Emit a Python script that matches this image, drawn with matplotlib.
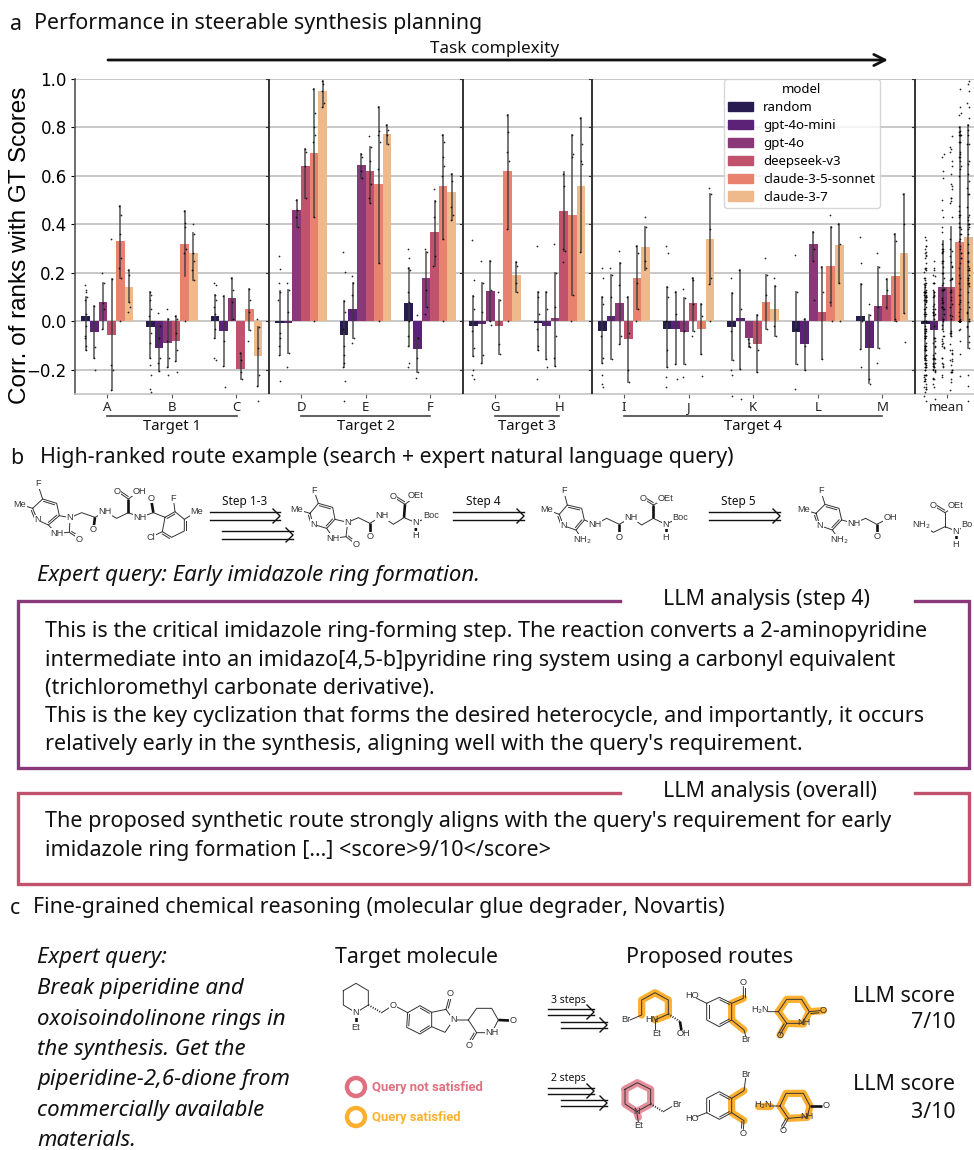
import matplotlib
matplotlib.use('Agg')
import matplotlib.pyplot as plt
import numpy as np
from matplotlib.patches import Patch, Circle

plt.rcParams['font.family'] = ['Noto Sans', 'DejaVu Sans']

categories = ['A', 'B', 'C', 'D', 'E', 'F', 'G', 'H', 'I', 'J', 'K', 'L', 'M', 'mean']
models = ['random', 'gpt-4o-mini', 'gpt-4o', 'deepseek-v3', 'claude-3-5-sonnet', 'claude-3-7']
colors = ['#281b4f', '#5b2277', '#8a3878', '#c1526e', '#e8816e', '#efba8b']

# bar heights, one entry per category
vals_random = [0.02, -0.025, 0.02, -0.005, -0.055, 0.075, -0.02, -0.005, -0.038, -0.03, -0.022, -0.043, 0.02, -0.01]
vals_mini = [-0.045, -0.11, -0.04, -0.005, 0.05, -0.115, -0.01, -0.018, 0.02, -0.033, 0.012, -0.095, -0.11, -0.037]
vals_4o = [0.08, -0.09, 0.095, 0.46, 0.645, 0.18, 0.125, 0.012, 0.075, -0.045, -0.07, 0.32, 0.062, 0.143]
vals_ds = [-0.055, -0.08, -0.195, 0.64, 0.62, 0.37, -0.02, 0.455, -0.075, 0.075, -0.095, 0.04, 0.11, 0.14]
vals_sonnet = [0.33, 0.32, 0.05, 0.695, 0.565, 0.56, 0.62, 0.44, 0.178, -0.033, 0.08, 0.228, 0.187, 0.328]
vals_37 = [0.14, 0.28, -0.145, 0.95, 0.775, 0.535, 0.19, 0.56, 0.305, 0.34, 0.05, 0.315, 0.283, 0.35]
all_vals = [vals_random, vals_mini, vals_4o, vals_ds, vals_sonnet, vals_37]

# error bars (low, high)
err_random = [(-0.12, 0.10), (-0.15, 0.12), (-0.07, 0.11), (-0.14, 0.125), (-0.19, 0.085), (-0.10, 0.22), (-0.145, 0.105),
              (-0.12, 0.12), (-0.17, 0.10), (-0.19, 0.14), (-0.16, 0.115), (-0.175, 0.12), (-0.115, 0.155), (-0.16, 0.14)]
err_mini = [(-0.15, 0.065), (-0.205, -0.01), (-0.185, 0.105), (-0.13, 0.13), (-0.07, 0.16), (-0.21, -0.07), (-0.17, 0.16),
            (-0.155, 0.12), (-0.155, 0.19), (-0.175, 0.12), (-0.195, 0.21), (-0.20, 0.01), (-0.255, 0.025), (-0.19, 0.12)]
err_4o = [(-0.03, 0.16), (-0.19, 0.01), (0.005, 0.18), (0.39, 0.50), (0.59, 0.69), (0.06, 0.285), (0.0, 0.25),
          (-0.185, 0.20), (-0.095, 0.24), (-0.175, 0.095), (-0.105, -0.075), (0.25, 0.37), (-0.11, 0.225), (-0.03, 0.33)]
err_ds = [(-0.285, 0.175), (-0.165, 0.02), (-0.24, -0.13), (0.51, 0.71), (0.49, 0.72), (0.23, 0.495), (-0.135, 0.09),
          (0.29, 0.615), (-0.25, 0.10), (-0.04, 0.18), (-0.21, 0.025), (-0.155, 0.225), (0.05, 0.175), (-0.06, 0.39)]
err_sonnet = [(0.18, 0.475), (0.185, 0.455), (-0.035, 0.135), (0.43, 0.96), (0.24, 0.885), (0.34, 0.77), (0.38, 0.85),
              (0.11, 0.77), (0.05, 0.31), (-0.135, 0.07), (-0.03, 0.19), (0.065, 0.39), (0.0, 0.36), (0.0, 0.80)]
err_37 = [(0.08, 0.21), (0.17, 0.365), (-0.265, -0.025), (0.885, 0.99), (0.73, 0.81), (0.42, 0.61), (0.12, 0.245),
          (0.285, 0.84), (0.21, 0.39), (0.155, 0.525), (-0.06, 0.145), (0.16, 0.40), (0.035, 0.525), (-0.11, 0.81)]
all_err = [err_random, err_mini, err_4o, err_ds, err_sonnet, err_37]

# single runs, per category then per model
pts_A = [[0.15, 0.13, 0.12, 0.10, 0.09, 0.03, -0.02, -0.06, -0.07, -0.10, -0.12], [0.065, -0.105, -0.15, -0.2],
         [0.2, 0.16, 0.075, 0.05, -0.03], [0.34, 0.175, -0.18, -0.2, -0.285], [0.475, 0.44, 0.36, 0.26, 0.22, 0.18, 0.0], [0.21, 0.19, 0.08, 0.06, 0.04]]
pts_B = [[0.12, 0.11, 0.09, 0.05, 0.02, -0.05, -0.09, -0.15, -0.18, -0.22, -0.28, -0.29], [0.035, -0.02, -0.07, -0.15, -0.17, -0.205],
         [0.05, 0.01, -0.08, -0.15, -0.19, -0.22], [0.02, 0.01, -0.05, -0.12, -0.165, -0.21], [0.455, 0.405, 0.39, 0.3, 0.28, 0.0], [0.40, 0.36, 0.28, 0.25, 0.21, 0.17]]
pts_C = [[0.16, 0.15, 0.11, 0.09, 0.06, 0.03, -0.03, -0.07, -0.15, -0.16], [0.105, -0.08, -0.185, -0.27],
         [0.18, 0.13, 0.08, 0.01], [-0.13, -0.16, -0.21, -0.24], [0.135, 0.09, 0.04, -0.035, -0.08], [0.01, -0.025, -0.11, -0.22, -0.265, -0.33]]
pts_D = [[0.27, 0.215, 0.16, 0.12, 0.09, -0.05, -0.07, -0.10, -0.14, -0.245], [0.16, 0.13, 0.04, -0.13, -0.19],
         [0.50, 0.46, 0.43, 0.39], [0.71, 0.70, 0.64, 0.51], [0.96, 0.86, 0.80, 0.77, 0.74, 0.43, 0.0], [0.99, 0.98, 0.95, 0.90, 0.885]]
pts_E = [[0.285, 0.205, 0.085, 0.04, -0.03, -0.10, -0.14, -0.17, -0.19, -0.245, -0.33], [0.185, 0.16, 0.11, -0.07, -0.09],
         [0.69, 0.68, 0.62, 0.59], [0.765, 0.72, 0.66, 0.565, 0.51, 0.49], [0.885, 0.785, 0.77, 0.74, 0.63, 0.24, 0.0], [0.81, 0.79, 0.77, 0.73]]
pts_F = [[0.30, 0.26, 0.22, 0.21, 0.12, 0.08, 0.0, -0.06, -0.10, -0.17, -0.19], [0.025, -0.07, -0.15, -0.21, -0.235],
         [0.30, 0.285, 0.13, 0.06, 0.03], [0.545, 0.495, 0.43, 0.27, 0.23], [0.77, 0.74, 0.68, 0.64, 0.6, 0.34, 0.0], [0.61, 0.58, 0.47, 0.44, 0.42]]
pts_G = [[0.335, 0.17, 0.105, 0.05, -0.04, -0.11, -0.145, -0.2, -0.22, -0.24], [0.25, 0.16, 0.04, -0.14, -0.17],
         [0.25, 0.13, 0.0, -0.015], [0.12, 0.09, -0.095, -0.135], [0.85, 0.78, 0.70, 0.66, 0.38, 0.0], [0.245, 0.23, 0.16, 0.12]]
pts_H = [[0.31, 0.12, 0.10, 0.03, -0.03, -0.10, -0.12, -0.24], [0.12, 0.05, -0.155, -0.19],
         [0.32, 0.2, 0.06, -0.06, -0.15, -0.185], [0.61, 0.56, 0.30, 0.29, 0.245], [0.77, 0.69, 0.68, 0.11, 0.0], [0.84, 0.73, 0.66, 0.65, 0.285]]
pts_I = [[0.22, 0.18, 0.10, 0.07, -0.06, -0.15, -0.17, -0.22, -0.26, -0.27], [0.22, 0.19, 0.1, -0.155],
         [0.29, 0.24, 0.15, -0.06, -0.095], [0.10, -0.05, -0.20, -0.25], [0.31, 0.28, 0.16, 0.05, 0.0], [0.43, 0.39, 0.25, 0.22]]
pts_J = [[0.31, 0.28, 0.14, 0.1, 0.0, -0.12, -0.19, -0.23, -0.27], [0.12, 0.03, -0.175, -0.24],
         [0.135, 0.095, -0.04, -0.175, -0.23], [0.18, 0.17, 0.07, -0.04, -0.06], [0.07, 0.02, -0.135, -0.225], [0.55, 0.525, 0.38, 0.18, 0.155, 0.0]]
pts_K = [[0.18, 0.115, -0.04, -0.16, -0.2, -0.22, -0.31], [0.21, 0.05, -0.195, -0.32],
         [-0.075, -0.09, -0.1, -0.105], [0.025, -0.12, -0.21], [0.26, 0.19, 0.11, -0.03], [0.18, 0.145, -0.02, -0.06]]
pts_L = [[0.275, 0.12, -0.03, -0.175, -0.28], [0.01, -0.1, -0.2],
         [0.37, 0.3, 0.25, 0.09], [0.225, 0.12, -0.155], [0.44, 0.39, 0.08, 0.0], [0.40, 0.32, 0.16, 0.0]]
pts_M = [[0.35, 0.24, 0.155, 0.0, -0.115, -0.19], [0.07, 0.025, -0.24, -0.26],
         [0.28, 0.225, 0.06, -0.11, -0.17], [0.175, 0.13, 0.06], [0.36, 0.33, 0.01, 0.0], [0.525, 0.40, 0.035, -0.085]]
all_pts = [pts_A, pts_B, pts_C, pts_D, pts_E, pts_F, pts_G, pts_H, pts_I, pts_J, pts_K, pts_L, pts_M]

group_labels = ['Target 1', 'Target 2', 'Target 3', 'Target 4']
group_spans = [(0, 2), (3, 5), (6, 7), (8, 12)]
dividers = [2.5, 5.5, 7.5, 12.5]
yticks = [-0.2, 0.0, 0.2, 0.4, 0.6, 0.8, 1.0]

W, H = 974, 1150
fig = plt.figure(figsize=(W / 100, H / 100), dpi=100)

ax = fig.add_axes([75 / W, 1 - 394 / H, (W - 75) / W, 315 / H])
x = np.arange(len(categories))
width = 0.8 / 6
jitter = [-0.012, 0.01, -0.004, 0.015, -0.016, 0.005, 0.0, -0.008]

ax.set_axisbelow(True)
ax.yaxis.grid(True, color='#c4c4c4', lw=1.3)
for i, m in enumerate(models):
    offs = x - 0.4 + width * (i + 0.5)
    ax.bar(offs, all_vals[i], width=width, color=colors[i], zorder=2)
    for j in range(len(categories)):
        lo, hi = all_err[i][j]
        ax.plot([offs[j], offs[j]], [lo, hi], color='#3a3a3a', lw=1.3, alpha=0.75, zorder=3)
        if j < 13:
            ys = all_pts[j][i]
        else:
            ys = [v for c in all_pts for v in c[i]]  # mean column pools every run
        xs = [offs[j] + jitter[k % len(jitter)] for k in range(len(ys))]
        ax.scatter(xs, ys, s=1.6, color='black', alpha=0.85, lw=0, zorder=4, clip_on=False)

ax.set_xlim(-0.5, 13.42)
ax.set_ylim(-0.3, 1.0)
ax.set_yticks(yticks)
ax.set_xticks(x)
ax.set_xticklabels(categories, fontsize=9.5, color='#222')
ax.tick_params(axis='x', length=3, width=0.8, pad=2, color='#555')
ax.tick_params(axis='y', length=3, width=0.8, pad=3, labelsize=12)
for t in ax.get_yticklabels():
    t.set_family('DejaVu Sans')
ax.set_ylabel('Corr. of ranks with GT Scores', family='Liberation Sans', fontsize=17.5)
ax.yaxis.set_label_coords(31 / W, 1 - 245 / H, transform=fig.transFigure)
for s in ['top', 'right']:
    ax.spines[s].set_visible(False)
ax.spines['left'].set_color('#555')
ax.spines['left'].set_linewidth(1.2)
ax.spines['bottom'].set_color('#c4c4c4')
ax.spines['bottom'].set_linewidth(1.2)

for d in dividers:
    ax.axvline(d, color='#333', lw=1.4, zorder=5)
    for v in yticks:
        ax.plot([d - 0.04, d], [v, v], color='#333', lw=0.8, zorder=5)

handles = [Patch(color=c, label=m) for c, m in zip(colors, models)]
leg = ax.legend(handles=handles, title='model', loc='upper left', bbox_to_anchor=(724 / W, 1 - 79 / H),
                bbox_transform=fig.transFigure, fontsize=9.5, title_fontsize=9.5, labelspacing=0.37,
                handlelength=1.85, handletextpad=0.8, borderpad=0.33, borderaxespad=0, framealpha=0.8)
leg.set_zorder(10)

# everything else is placed in image pixels
ov = fig.add_axes([0, 0, 1, 1], zorder=20)
ov.set_xlim(0, W)
ov.set_ylim(H, 0)
ov.axis('off')

BODY = 15.4
ITALIC = 16


def label(px, py, s, size=BODY, ha='left', **kw):
    ov.text(px, py, s, fontsize=size, ha=ha, va='center', color=kw.pop('color', '#111'), **kw)


for (a, b), name in zip(group_spans, group_labels):
    xa, xb = 107.3 + 64.6 * a, 107.3 + 64.6 * b
    ov.plot([xa, xb], [416, 416], color='#444', lw=1.2)
    label((xa + xb) / 2, 426.5, name, size=10.7, ha='center')

label(10, 24, 'a')
label(34, 24, 'Performance in steerable synthesis planning')
label(495, 49, 'Task complexity', 12.3, ha='center')
ov.annotate('', xy=(888, 60), xytext=(108, 60), arrowprops=dict(arrowstyle='->', lw=2, color='#111', mutation_scale=20, shrinkA=0, shrinkB=0))

label(10, 458, 'b')
label(40, 458, 'High-ranked route example (search + expert natural language query)')
label(37, 575, 'Expert query: Early imidazole ring formation.', ITALIC, style='italic')

query_lines = ['This is the critical imidazole ring-forming step. The reaction converts a 2-aminopyridine',
               'intermediate into an imidazo[4,5-b]pyridine ring system using a carbonyl equivalent',
               '(trichloromethyl carbonate derivative).',
               'This is the key cyclization that forms the desired heterocycle, and importantly, it occurs',
               "relatively early in the synthesis, aligning well with the query's requirement."]
overall_lines = ["The proposed synthetic route strongly aligns with the query's requirement for early",
                 'imidazole ring formation [...] <score>9/10</score>']
for i, s in enumerate(query_lines):
    label(45, 632 + 28.2 * i, s, 15.55)
for i, s in enumerate(overall_lines):
    label(45, 822 + 28.2 * i, s, 15.55)

ov.plot([620, 18, 18, 969, 969, 915], [601, 601, 768, 768, 601, 601], color='#8a3878', lw=2.4, solid_joinstyle='miter')
ov.plot([620, 18, 18, 969, 969, 915], [793, 793, 884, 884, 793, 793], color='#c1526e', lw=2.4, solid_joinstyle='miter')
label(663, 599, 'LLM analysis (step 4)')
label(663, 791, 'LLM analysis (overall)')

label(10, 908, 'c')
label(33, 908, 'Fine-grained chemical reasoning (molecular glue degrader, Novartis)')
side_text = ['Expert query:', 'Break piperidine and', 'oxoisoindolinone rings in', 'the synthesis. Get the',
             'piperidine-2,6-dione from', 'commercially available', 'materials.']
for i, s in enumerate(side_text):
    label(37, 958 + 30.5 * i, s, ITALIC, style='italic')
label(335, 957, 'Target molecule')
label(626, 957, 'Proposed routes')
label(955, 996, 'LLM score', ha='right')
label(955, 1023, '7/10', ha='right')
label(955, 1084, 'LLM score', ha='right')
label(955, 1112, '3/10', ha='right')


def step_arrow(x0, x1, yc, gap):
    for dy in (-gap, gap):
        ov.plot([x0, x1], [yc + dy, yc + dy], color='#111', lw=1.0)
    ov.plot([x1 - 7, x1, x1 - 7], [yc - 7, yc, yc + 7], color='#111', lw=1.0)


step_arrow(210, 280, 516, 4)
step_arrow(222, 293, 535, 4)
step_arrow(453, 524, 516, 4)
step_arrow(709, 780, 516, 4)
label(245, 502, 'Step 1-3', 8.5, ha='center')
label(483, 502, 'Step 4', 8.5, ha='center')
label(738, 502, 'Step 5', 8.5, ha='center')
step_arrow(548, 594, 1012, 3)
step_arrow(561, 607, 1025, 3)
step_arrow(548, 594, 1091, 3)
step_arrow(561, 607, 1103, 3)
label(568, 1001, '3 steps', 7.5, ha='center')
label(568, 1079, '2 steps', 7.5, ha='center')


def mol(ox, oy, chains=(), doubles=(), bold=(), hashed=(), labels=(), glow=(), glow_col='#fdb02f', boxed=True):
    # coordinates are in 3x crop units, relative to (ox, oy)
    def P(p):
        return ox + p[0] / 3, oy + p[1] / 3
    for g in glow:
        pts = [P(p) for p in g]
        ov.plot([p[0] for p in pts], [p[1] for p in pts], color=glow_col, lw=5.2, solid_capstyle='round', solid_joinstyle='round')
    for c in chains:
        pts = [P(p) for p in c]
        ov.plot([p[0] for p in pts], [p[1] for p in pts], color='#333', lw=0.7)
    for a, b, side in doubles:
        (x0, y0), (x1, y1) = P(a), P(b)
        dx, dy = x1 - x0, y1 - y0
        n = np.hypot(dx, dy)
        nx, ny = -dy / n * 2 * side, dx / n * 2 * side
        ov.plot([x0 + nx + dx * 0.12, x1 + nx - dx * 0.12], [y0 + ny + dy * 0.12, y1 + ny - dy * 0.12], color='#333', lw=0.7)
    for a, b in bold:
        (x0, y0), (x1, y1) = P(a), P(b)
        ov.plot([x0, x1], [y0, y1], color='#111', lw=1.9, solid_capstyle='butt')
    for a, b in hashed:
        (x0, y0), (x1, y1) = P(a), P(b)
        ov.plot([x0, x1], [y0, y1], color='#222', lw=1.4, ls=(0, (0.5, 0.8)))
    for p, s in labels:
        px, py = P(p)
        bb = dict(fc='white', ec='none', pad=0.3) if boxed else None
        ov.text(px, py, s, fontsize=6.6, ha='center', va='center', color='#333', bbox=bb, family='Liberation Sans')


# panel b molecules
mol(0, 475,
    chains=[[(60, 88), (98, 100), (128, 72), (170, 85), (178, 122), (145, 150), (112, 135), (98, 100)],
            [(128, 72), (113, 27)], [(178, 122), (210, 128), (208, 172), (170, 175), (145, 150)], [(208, 172), (238, 192)],
            [(210, 128), (245, 113), (285, 127), (315, 110), (350, 130), (385, 113), (420, 127), (460, 113), (495, 127), (525, 110), (553, 133), (553, 168), (515, 187), (487, 170), (495, 127)],
            [(525, 110), (520, 70)], [(553, 133), (590, 110)], [(487, 170), (452, 187)], [(385, 72), (350, 48)], [(385, 72), (418, 48)]],
    doubles=[((128, 72), (170, 85), 1), ((178, 122), (145, 150), 1), ((98, 100), (112, 135), 1), ((208, 172), (238, 192), -1),
             ((385, 72), (350, 48), 1), ((553, 133), (553, 168), -1), ((515, 187), (487, 170), -1), ((495, 127), (525, 110), 1)],
    bold=[((285, 127), (280, 165)), ((385, 113), (385, 72)), ((460, 113), (453, 70))],
    labels=[((113, 27), 'F'), ((60, 88), 'Me'), ((112, 135), 'N'), ((210, 128), 'N'), ((170, 175), 'NH'), ((238, 192), 'O'),
            ((280, 165), 'O'), ((315, 110), 'NH'), ((350, 48), 'O'), ((418, 48), 'OH'), ((420, 127), 'NH'), ((453, 70), 'O'),
            ((520, 70), 'F'), ((590, 110), 'Me'), ((452, 187), 'Cl')])
mol(280, 475,
    chains=[[(50, 103), (90, 115), (115, 85), (158, 97), (165, 133), (140, 160), (100, 148), (90, 115)],
            [(115, 85), (102, 46)], [(165, 133), (203, 142), (198, 185), (160, 190), (140, 160)], [(198, 185), (227, 208)],
            [(203, 142), (235, 128), (270, 145), (305, 123), (340, 148), (372, 128), (408, 143), (452, 123)],
            [(375, 88), (338, 65)], [(375, 88), (408, 63)]],
    doubles=[((115, 85), (158, 97), 1), ((165, 133), (140, 160), 1), ((90, 115), (100, 148), 1), ((198, 185), (227, 208), -1), ((375, 88), (338, 65), 1)],
    bold=[((270, 145), (270, 185)), ((372, 128), (375, 88)), ((408, 143), (407, 182))],
    labels=[((102, 46), 'F'), ((50, 103), 'Me'), ((100, 148), 'N'), ((203, 142), 'N'), ((160, 190), 'NH'), ((227, 208), 'O'), ((270, 185), 'O'),
            ((305, 123), 'NH'), ((338, 65), 'O'), ((408, 63), 'OEt'), ((408, 143), 'N'), ((452, 123), 'Boc'), ((407, 182), 'H')])
mol(280, 475,
    chains=[[(800, 105), (838, 118), (862, 90), (905, 100), (913, 135), (888, 165), (850, 152), (838, 118)], [(862, 90), (851, 47)],
            [(913, 135), (945, 148), (980, 130), (1018, 148), (1053, 127), (1085, 150), (1120, 130), (1157, 148), (1200, 127)],
            [(1120, 90), (1088, 70)], [(1120, 90), (1157, 70)], [(888, 165), (908, 195)]],
    doubles=[((862, 90), (905, 100), 1), ((913, 135), (888, 165), 1), ((838, 118), (850, 152), 1), ((1120, 90), (1088, 70), 1)],
    bold=[((1018, 148), (1018, 187)), ((1120, 130), (1120, 90)), ((1157, 148), (1157, 187))],
    labels=[((851, 47), 'F'), ((800, 105), 'Me'), ((850, 152), 'N'), ((908, 195), 'NH$_2$'), ((945, 148), 'NH'), ((1018, 187), 'O'),
            ((1053, 127), 'NH'), ((1088, 70), 'O'), ((1157, 70), 'OEt'), ((1157, 148), 'N'), ((1200, 127), 'Boc'), ((1157, 187), 'H')])
mol(600, 475,
    chains=[[(612, 105), (648, 115), (675, 88), (717, 100), (725, 135), (697, 165), (660, 152), (648, 115)], [(675, 88), (662, 47)],
            [(725, 135), (762, 145), (797, 130), (830, 148), (872, 127)], [(697, 165), (718, 195)],
            [(965, 150), (1000, 172), (1035, 155), (1068, 168), (1108, 148)], [(1035, 113), (1000, 92)], [(1035, 113), (1068, 92)], [(1035, 155), (1035, 113)]],
    doubles=[((675, 88), (717, 100), 1), ((725, 135), (697, 165), 1), ((648, 115), (660, 152), 1), ((1035, 113), (1000, 92), 1)],
    bold=[((830, 148), (830, 185)), ((1068, 168), (1068, 208))],
    labels=[((662, 47), 'F'), ((612, 105), 'Me'), ((660, 152), 'N'), ((718, 195), 'NH$_2$'), ((762, 145), 'NH'), ((830, 185), 'O'), ((872, 127), 'OH'),
            ((965, 150), 'NH$_2$'), ((1000, 92), 'O'), ((1068, 92), 'OEt'), ((1068, 168), 'N'), ((1102, 148), 'Bo'), ((1068, 208), 'H')])

# panel c target
mol(330, 970,
    chains=[[(40, 62), (78, 40), (115, 62), (115, 105), (78, 128), (40, 105), (40, 62)], [(155, 128), (190, 105), (233, 128), (270, 107), (305, 127), (305, 170), (270, 192), (230, 172), (233, 128)],
            [(305, 127), (348, 118), (370, 150), (345, 187), (305, 170)], [(348, 118), (360, 72)], [(370, 150), (415, 150), (440, 115), (485, 115), (505, 150), (485, 188), (440, 188), (415, 150)],
            [(440, 188), (418, 225)]],
    doubles=[((233, 128), (230, 172), -1), ((270, 107), (305, 127), 1), ((305, 170), (270, 192), 1), ((348, 118), (360, 72), 1), ((440, 188), (418, 225), 1)],
    bold=[((78, 128), (78, 172)), ((505, 150), (548, 152))],
    hashed=[((115, 105), (155, 128))],
    labels=[((78, 128), 'N'), ((78, 172), 'Et'), ((190, 105), 'O'), ((360, 72), 'O'), ((370, 150), 'N'), ((485, 188), 'NH'), ((548, 152), 'O'), ((418, 225), 'O')])

# panel c route 1
mol(600, 970,
    glow=[[(125, 135), (125, 90), (165, 68), (205, 90), (205, 135), (165, 150)], [(430, 85), (395, 100), (395, 150), (432, 180)],
          [(535, 125), (560, 88), (605, 88), (628, 125), (670, 122)], [(628, 125), (610, 162), (560, 160), (535, 125)], [(560, 160), (540, 195)]],
    chains=[[(90, 150), (125, 135), (125, 90), (165, 68), (205, 90), (205, 132), (165, 150)], [(165, 150), (165, 178)], [(240, 155), (245, 180)],
            [(320, 100), (358, 82), (395, 100), (395, 150), (358, 170), (320, 150), (320, 100)], [(320, 100), (290, 85)], [(395, 100), (430, 85), (430, 50)], [(395, 150), (432, 180), (437, 198)],
            [(505, 125), (535, 125), (560, 88), (605, 88), (628, 125), (605, 160), (560, 160), (535, 125)], [(628, 125), (660, 122)], [(560, 160), (540, 195)]],
    doubles=[((320, 150), (320, 100), 1), ((358, 82), (395, 100), 1), ((395, 150), (358, 170), 1), ((430, 85), (430, 50), 1), ((628, 125), (660, 122), 1), ((560, 160), (540, 195), 1)],
    bold=[((240, 155), (244, 180))],
    hashed=[((205, 132), (240, 155))],
    labels=[((78, 150), 'Br'), ((155, 148), 'HN'), ((170, 190), 'Et'), ((250, 192), 'OH'), ((275, 78), 'HO'), ((430, 38), 'O'), ((437, 208), 'Br'),
            ((482, 122), 'H$_2$N'), ((670, 122), 'O'), ((612, 157), 'NH'), ((540, 195), 'O')], boxed=False)

# panel c route 2
mol(600, 1060,
    glow=[[(75, 88), (112, 68), (152, 88), (152, 132), (110, 155), (75, 132), (75, 88)], [(110, 155), (115, 172)]],
    glow_col='#e58e9b',
    chains=[[(75, 88), (112, 68), (152, 88), (152, 132), (110, 155), (75, 132), (75, 88)], [(110, 155), (115, 185)], [(190, 155), (215, 140)]],
    hashed=[((152, 132), (190, 155))],
    labels=[((110, 153), 'N'), ((115, 198), 'Et'), ((230, 133), 'Br')], boxed=False)
mol(600, 1060,
    glow=[[(432, 92), (395, 115), (395, 158), (432, 182)], [(475, 138), (510, 138)], [(540, 138), (558, 100), (610, 100), (630, 138), (622, 172), (565, 175), (540, 138)]],
    chains=[[(320, 158), (320, 115), (358, 95), (395, 115), (395, 158), (358, 178), (320, 158)], [(320, 158), (290, 170)], [(395, 115), (432, 92), (437, 55)], [(395, 158), (432, 182), (430, 208)],
            [(515, 138), (540, 138), (558, 100), (610, 100), (630, 138), (622, 170), (565, 175), (540, 138)], [(565, 175), (548, 205)]],
    doubles=[((320, 158), (320, 115), 1), ((358, 95), (395, 115), 1), ((395, 158), (358, 178), 1), ((432, 182), (430, 208), 1), ((565, 175), (548, 205), 1)],
    bold=[((630, 138), (665, 138))],
    labels=[((275, 175), 'HO'), ((437, 43), 'Br'), ((430, 220), 'O'), ((490, 135), 'H$_2$N'), ((677, 138), 'O'), ((622, 170), 'NH'), ((548, 212), 'O')], boxed=False)

# key for the highlights
ov.add_patch(Circle((356, 1087), 9, fc='none', ec='#e0707f', lw=3.2))
ov.add_patch(Circle((356, 1117), 9, fc='none', ec='#fdb02f', lw=3.2))
label(372, 1087, 'Query not satisfied', 9.4, color='#e0707f', weight='bold', family='Roboto')
label(372, 1117, 'Query satisfied', 9.4, color='#fdb02f', weight='bold', family='Roboto')

fig.savefig('out.png', dpi=100)
